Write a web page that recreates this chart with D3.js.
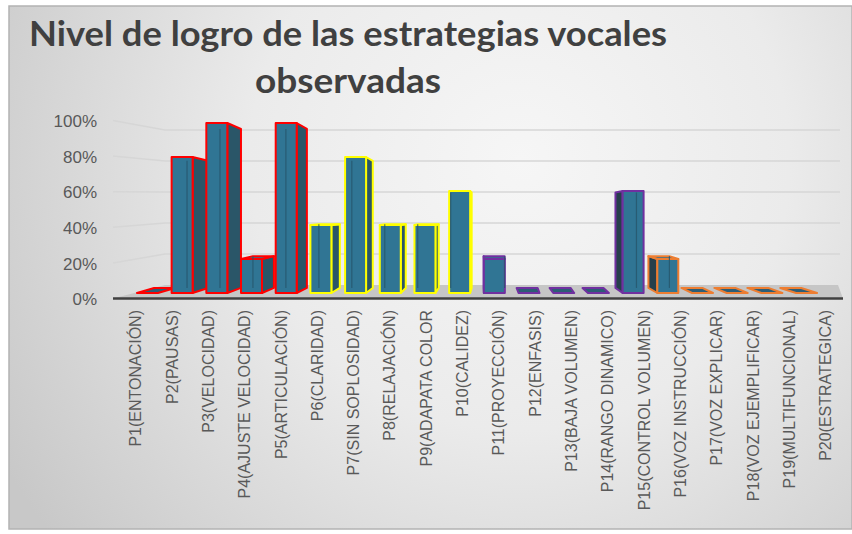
<!DOCTYPE html>
<html>
<head>
<meta charset="utf-8">
<style>
  body { margin: 0; background: #fff; }
  svg { display: block; }
  .tick text { fill: #595959; font-family: "Liberation Sans", Arial, sans-serif; }
</style>
<title>Nivel de logro</title>
</head>
<body>
<script src="https://cdn.jsdelivr.net/npm/d3@7"></script>
<script>
// data
var categories = ["P1(ENTONACIÓN)", "P2(PAUSAS)", "P3(VELOCIDAD)", "P4(AJUSTE VELOCIDAD)",
  "P5(ARTICULACIÓN)", "P6(CLARIDAD)", "P7(SIN SOPLOSIDAD)", "P8(RELAJACIÓN)", "P9(ADAPATA COLOR",
  "P10(CALIDEZ)", "P11(PROYECCIÓN)", "P12(ENFASIS)", "P13(BAJA VOLUMEN)", "P14(RANGO DINAMICO)",
  "P15(CONTROL VOLUMEN)", "P16(VOZ INSTRUCCIÓN)", "P17(VOZ EXPLICAR)", "P18(VOZ EJEMPLIFICAR)",
  "P19(MULTIFUNCIONAL)", "P20(ESTRATEGICA)"];
var values = [0, 80, 100, 20, 100, 40, 80, 40, 40, 60, 20, 0, 0, 0, 60, 20, 0, 0, 0, 0];
var yTicks = [0, 20, 40, 60, 80, 100];
var titleLines = ["Nivel de logro de las estrategias vocales", "observadas"];

// outline colour of each group of five bars
var edgeColors = ["#ff0000", "#ffff00", "#7030a0", "#ed7d31"];

var W = 852, H = 534;
var svg = d3.select("body").append("svg").attr("width", W).attr("height", H);

var defs = svg.append("defs");
var grad = defs.append("radialGradient").attr("id", "bg")
  .attr("gradientUnits", "userSpaceOnUse")
  .attr("cx", 520).attr("cy", 160).attr("r", 600);
grad.append("stop").attr("offset", 0).attr("stop-color", "#f6f6f6");
grad.append("stop").attr("offset", 0.45).attr("stop-color", "#ebebeb");
grad.append("stop").attr("offset", 1).attr("stop-color", "#c8c8c8");

svg.append("rect").attr("x", 9).attr("y", 6).attr("width", 843).attr("height", 523)
  .attr("fill", "url(#bg)").attr("stroke", "#b3b3b3").attr("stroke-width", 1.5);

// scales: front of bars, left wall / labels, back wall
var xBar = d3.scaleBand().domain(categories).range([130, 824]).paddingInner(0.395).paddingOuter(0.2);
var xLab = d3.scalePoint().domain(categories).range([135, 825]);
var yBar = d3.scaleLinear().domain([0, 100]).range([293, 123]);
var yFront = d3.scaleLinear().domain([0, 100]).range([298.5, 120.5]);
var yBack = d3.scaleLinear().domain([0, 100]).range([285, 130]);

// simple perspective offsets
function dx(x) { return 0.05 * (490 - x); }
function dy(y) { return 0.065 * (215 - y); }

// gridlines (left wall + back wall)
svg.append("g").selectAll("path").data(yTicks.filter(function(d){ return d > 0; }))
  .enter().append("path")
  .attr("d", function(d){ return "M113," + yFront(d) + "L165," + yBack(d) + "L840," + yBack(d); })
  .attr("fill", "none").attr("stroke", "#d6d6d6").attr("stroke-width", 1.5);

// floor
svg.append("polygon")
  .attr("points", [[113, yFront(0)], [843, yFront(0)], [838, yBack(0)], [165, yBack(0)]].join(" "))
  .attr("fill", "#c6c6c6");
svg.append("line").attr("x1", 113).attr("x2", 843).attr("y1", yFront(0)).attr("y2", yFront(0))
  .attr("stroke", "#404040").attr("stroke-width", 2.5);

// bars
var bw = xBar.bandwidth();
var bars = categories.map(function(c, i) {
  var xl = xBar(c), xr = xl + bw, yt = yBar(values[i]), yb = yBar(0);
  var ddx = dx(xl + bw / 2);
  return { v: values[i], xl: xl, xr: xr, yt: yt, yb: yb, ddx: ddx,
    dyt: dy(yt), dyb: dy(yb), color: edgeColors[Math.floor(i / 5)] };
});

var gBars = svg.append("g").attr("stroke-width", 2).attr("stroke-linejoin", "round");

gBars.selectAll(".side").data(bars.filter(function(b){ return b.v > 0; })).enter()
  .append("polygon").attr("class", "side")
  .attr("points", function(b) {
    var x0 = b.ddx >= 0 ? b.xr : b.xl;
    return [[x0, b.yt], [x0 + b.ddx, b.yt + b.dyt], [x0 + b.ddx, b.yb + b.dyb], [x0, b.yb]].join(" ");
  })
  .attr("fill", function(b){ return b.ddx >= 0 ? "#2a5668" : "#263f4b"; })
  .attr("stroke", function(b){ return b.color; });

gBars.selectAll(".top").data(bars.filter(function(b){ return b.v === 0 || b.dyt < 0; })).enter()
  .append("polygon").attr("class", "top")
  .attr("points", function(b) {
    return [[b.xl, b.yt], [b.xr, b.yt], [b.xr + b.ddx, b.yt + b.dyt], [b.xl + b.ddx, b.yt + b.dyt]].join(" ");
  })
  .attr("fill", function(b){ return b.v === 0 ? "#2c5d75" : "#33728d"; })
  .attr("stroke", function(b){ return b.color; });

gBars.selectAll(".front").data(bars.filter(function(b){ return b.v > 0; })).enter()
  .append("rect").attr("class", "front")
  .attr("x", function(b){ return b.xl; })
  .attr("y", function(b){ return b.yt; })
  .attr("width", bw)
  .attr("height", function(b){ return b.yb - b.yt; })
  .attr("fill", "#307594")
  .attr("stroke", function(b){ return b.color; });

// hidden back edge seen through the bar
gBars.selectAll(".edge").data(bars.filter(function(b){ return b.v > 0; })).enter()
  .append("line").attr("class", "edge")
  .attr("x1", function(b){ return (b.ddx >= 0 ? b.xl : b.xr) + b.ddx; })
  .attr("x2", function(b){ return (b.ddx >= 0 ? b.xl : b.xr) + b.ddx; })
  .attr("y1", function(b){ return b.yt + b.dyt; })
  .attr("y2", function(b){ return b.yb + b.dyb; })
  .attr("stroke", "#27566c").attr("stroke-width", 1.2).attr("opacity", 0.8);

// y axis
var yAxis = svg.append("g").attr("transform", "translate(97,0)")
  .call(d3.axisLeft(yFront).tickValues(yTicks).tickSize(0).tickPadding(0)
    .tickFormat(function(d){ return d + "%"; }));
yAxis.select(".domain").remove();
yAxis.selectAll("text").style("font-size", "17px").attr("dy", "0.36em");

// x axis labels, rotated
var xAxis = svg.append("g").attr("transform", "translate(0,310)")
  .call(d3.axisBottom(xLab).tickSize(0));
xAxis.select(".domain").remove();
xAxis.selectAll("text")
  .attr("transform", "rotate(-90)")
  .attr("x", 0).attr("y", 0).attr("dy", "0.36em")
  .style("text-anchor", "end")
  .style("font-size", "16px");

// title
var title = svg.append("g")
  .style("font-family", "Lato, 'Open Sans', sans-serif")
  .style("font-weight", "bold")
  .style("font-size", "34px")
  .attr("fill", "#404040")
  .attr("text-anchor", "middle");
title.append("text").attr("x", 348).attr("y", 46).text(titleLines[0])
  .attr("textLength", 638).attr("lengthAdjust", "spacingAndGlyphs");
title.append("text").attr("x", 348).attr("y", 93).text(titleLines[1])
  .attr("textLength", 186).attr("lengthAdjust", "spacingAndGlyphs");
</script>
</body>
</html>
